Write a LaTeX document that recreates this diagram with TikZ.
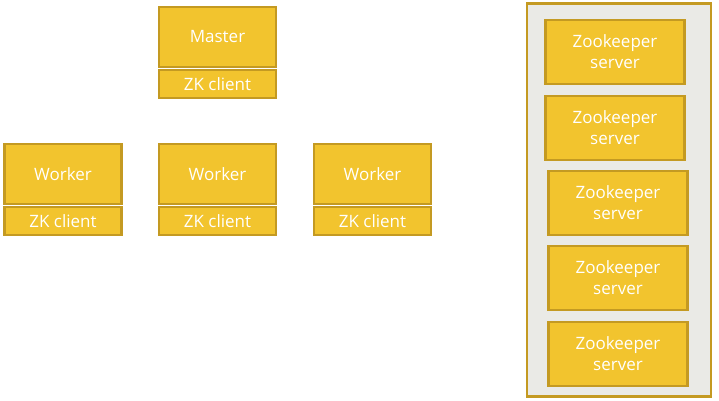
\documentclass[tikz,border=0pt]{standalone}
\usepackage{fontspec}
\setmainfont{Open Sans}
\definecolor{zkfill}{HTML}{F2C42E}
\definecolor{zkedge}{HTML}{C49A22}
\definecolor{panel}{HTML}{EAEAE6}
\begin{document}
\begin{tikzpicture}[x=1pt,y=-1pt,
  boxstyle/.style={draw=zkedge,line width=2.4pt,fill=zkfill,text=white,font=\fontsize{17}{21}\selectfont,align=center,inner sep=0pt},
  clientstyle/.style={boxstyle,font=\fontsize{17}{21}\selectfont}]
\useasboundingbox (0,0) rectangle (719,400);
\fill[white] (0,0) rectangle (719,400);
% Master
\node[boxstyle,minimum width=117pt,minimum height=60pt] (master) at (217.5,37) {Master};
\node[clientstyle,minimum width=117pt,minimum height=28pt] (masterzk) at (217.5,84) {ZK client};
% Workers
\node[boxstyle,minimum width=117pt,minimum height=60pt] (w1) at (63,174) {Worker};
\node[clientstyle,minimum width=117pt,minimum height=28pt] (w1zk) at (63,221) {ZK client};
\node[boxstyle,minimum width=117pt,minimum height=60pt] (w2) at (217.5,174) {Worker};
\node[clientstyle,minimum width=117pt,minimum height=28pt] (w2zk) at (217.5,221) {ZK client};
\node[boxstyle,minimum width=117pt,minimum height=60pt] (w3) at (372.5,174) {Worker};
\node[clientstyle,minimum width=117pt,minimum height=28pt] (w3zk) at (372.5,221) {ZK client};
% Panel
\node[draw=zkedge,line width=2.4pt,fill=panel,minimum width=184pt,minimum height=393pt,inner sep=0pt] (panel) at (619,200) {};
\node[boxstyle,minimum width=139pt,minimum height=64pt] (zk1) at (615,52) {Zookeeper\\server};
\node[boxstyle,minimum width=139pt,minimum height=64pt] (zk2) at (615,128) {Zookeeper\\server};
\node[boxstyle,minimum width=139pt,minimum height=64pt] (zk3) at (618,203) {Zookeeper\\server};
\node[boxstyle,minimum width=139pt,minimum height=64pt] (zk4) at (618,278) {Zookeeper\\server};
\node[boxstyle,minimum width=139pt,minimum height=64pt] (zk5) at (618,354) {Zookeeper\\server};
\end{tikzpicture}
\end{document}
